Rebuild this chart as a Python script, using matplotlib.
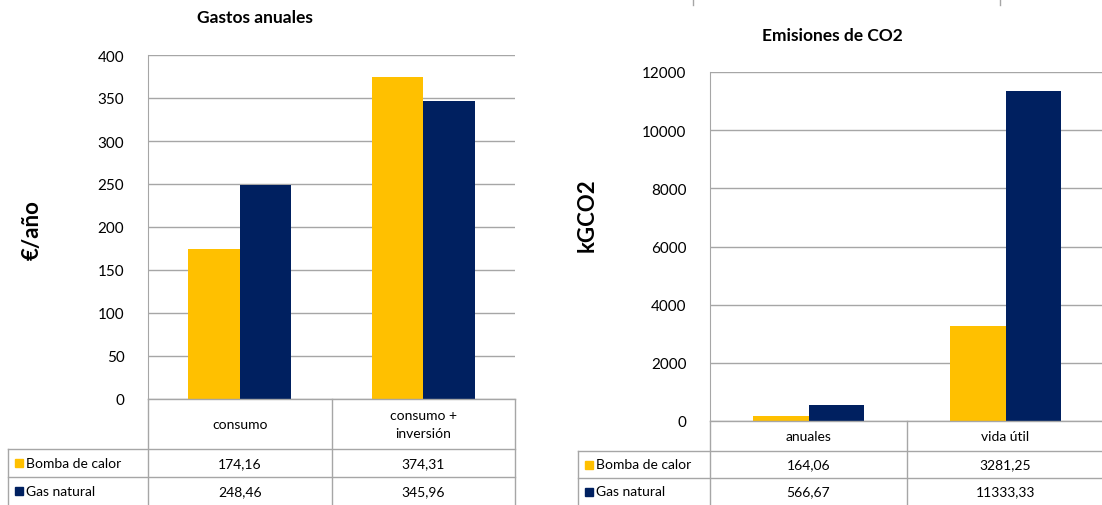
import matplotlib.pyplot as plt
from matplotlib.lines import Line2D
from matplotlib.patches import Rectangle

plt.rcParams['font.family'] = ['Lato', 'DejaVu Sans']

# data
series = ["Bomba de calor", "Gas natural"]
colors = ["#FFC000", "#002060"]

gastos_cats = ["consumo", "consumo +\ninversión"]
gastos_bomba = [174.16, 374.31]
gastos_gas = [248.46, 345.96]
gastos_labels = [["174,16", "374,31"], ["248,46", "345,96"]]

emis_cats = ["anuales", "vida útil"]
emis_bomba = [164.06, 3281.25]
emis_gas = [566.67, 11333.33]
emis_labels = [["164,06", "3281,25"], ["566,67", "11333,33"]]

W, H = 1102, 506
fig = plt.figure(figsize=(W / 100, H / 100), dpi=100)
grid_c = "#A6A6A6"


def fx(x):
    return x / W


def fy(y):
    return 1 - y / H


def hline(x0, x1, y):
    fig.add_artist(Line2D([fx(x0), fx(x1)], [fy(y), fy(y)], color=grid_c, lw=1))


def vline(x, y0, y1):
    fig.add_artist(Line2D([fx(x), fx(x)], [fy(y0), fy(y1)], color=grid_c, lw=1))


def chart(x0, x1, ytop, ybot, vals, ymax, step, cats, labels, hdr_bot, row_mid, leg_x,
          title, title_xy, ylabel, ylabel_xy):
    ax = fig.add_axes([fx(x0), fy(ybot), fx(x1) - fx(x0), fy(ytop) - fy(ybot)])
    w = 0.28
    for i, v in enumerate(vals):
        ax.bar([k + (i - 0.5) * w for k in range(len(v))], v, width=w, color=colors[i],
               zorder=3)
    ax.set_xlim(-0.5, 1.5)
    ax.set_ylim(0, ymax)
    ax.set_yticks(range(0, ymax + 1, step))
    ax.tick_params(axis="y", length=0, labelsize=11, pad=17)
    ax.set_xticks([])
    ax.grid(axis="y", color=grid_c, lw=1, zorder=0)
    for s in ["top", "right", "bottom"]:
        ax.spines[s].set_visible(False)
    ax.spines["left"].set_color(grid_c)
    ax.patch.set_alpha(0)

    # data table
    xm = (x0 + x1) / 2
    xs = [x0, xm, x1]
    for x in xs:
        vline(x, ybot, H)
    hline(x0, x1, ybot)
    hline(leg_x, x1, hdr_bot)
    hline(leg_x, x1, row_mid)
    vline(leg_x, hdr_bot, H)
    row_c = [(hdr_bot + row_mid) / 2, (row_mid + H) / 2]
    for j, c in enumerate(cats):
        fig.text(fx((xs[j] + xs[j + 1]) / 2), fy((ybot + hdr_bot) / 2), c,
                 ha="center", va="center", fontsize=10, linespacing=1.5)
    for i, name in enumerate(series):
        fig.add_artist(Rectangle((fx(leg_x + 7), fy(row_c[i] + 4)), fx(8), fy(0) - fy(8),
                                 color=colors[i]))
        fig.text(fx(leg_x + 18), fy(row_c[i]), name, ha="left", va="center", fontsize=10)
        for j in range(2):
            fig.text(fx((xs[j] + xs[j + 1]) / 2), fy(row_c[i]), labels[i][j],
                     ha="center", va="center", fontsize=10)

    fig.text(fx(title_xy[0]), fy(title_xy[1]), title, ha="center", va="center",
             fontsize=12.5, fontweight="bold")
    fig.text(fx(ylabel_xy[0]), fy(ylabel_xy[1]), ylabel, ha="center", va="center",
             fontsize=16, fontweight="bold", rotation=90)
    return ax


chart(148, 515, 56, 400, [gastos_bomba, gastos_gas], 400, 50, gastos_cats, gastos_labels,
      450, 478, 8, "Gastos anuales", (255, 18), "€/año", (32, 230))
chart(710, 1104, 73, 422, [emis_bomba, emis_gas], 12000, 2000, emis_cats, emis_labels,
      452, 479, 578, "Emisiones de CO2", (832, 36), "kGCO2", (587, 215))

# faint frame edges at the top
vline(693, 0, 6)
vline(1000, 0, 6)

fig.savefig("out.png", dpi=100)
